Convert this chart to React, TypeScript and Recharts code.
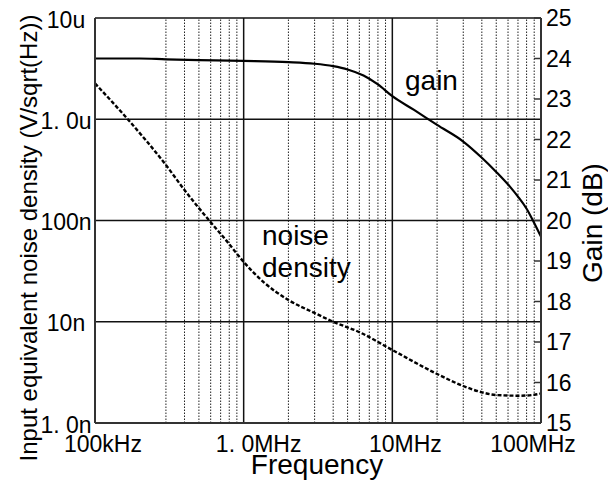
import React from 'react';
import {
  ComposedChart,
  Line,
  XAxis,
  YAxis,
  ReferenceLine,
  Customized,
} from 'recharts';

const FONT = '"Liberation Sans", Arial, Helvetica, sans-serif';

// ---- data ----
const gainFreq = [1e5, 2e5, 3e5, 5e5, 1e6, 2e6, 3e6, 4e6, 5e6, 6.4e6, 8e6, 1e7, 1.4e7, 2e7, 3e7, 4e7, 5e7, 6.2e7, 7e7, 8e7, 9e7, 1e8];
const gainDb = [24.0, 24.0, 23.98, 23.96, 23.94, 23.91, 23.87, 23.81, 23.73, 23.58, 23.36, 23.07, 22.73, 22.36, 21.95, 21.55, 21.2, 20.83, 20.59, 20.29, 19.94, 19.6];

const noiseFreq = [1e5, 1.66e5, 3e5, 4e5, 5.9e5, 7.6e5, 1e6, 1.35e6, 2e6, 3e6, 4e6, 6e6, 1e7, 2e7, 3e7, 4e7, 5e7, 7.2e7, 9e7, 1e8];
const noiseVal = [2.26e-6, 1.0e-6, 3.53e-7, 2.0e-7, 9.9e-8, 6.4e-8, 3.9e-8, 2.49e-8, 1.64e-8, 1.22e-8, 1.0e-8, 7.9e-9, 5.26e-9, 3.05e-9, 2.32e-9, 2.01e-9, 1.89e-9, 1.86e-9, 1.9e-9, 1.96e-9];

const xTicks = [1e5, 1e6, 1e7, 1e8];
const xTickLabels = ['100kHz', '1. 0MHz', '10MHz', '100MHz'];
const leftTicks = [1e-9, 1e-8, 1e-7, 1e-6, 1e-5];
const leftTickLabels = ['1. 0n', '10n', '100n', '1. 0u', '10u'];
const rightTicks = [15, 16, 17, 18, 19, 20, 21, 22, 23, 24, 25];

const minorX = [3e5, 4e5, 5e5, 6e5, 7e5, 8e5, 9e5, 2e6, 3e6, 4e6, 5e6, 6e6, 7e6, 8e6, 9e6, 2e7, 3e7, 4e7, 5e7, 6e7, 7e7, 8e7, 9e7];
const majorX = [1e6, 1e7];
const majorY = [1e-8, 1e-7, 1e-6, 1e-5];

const gainData = gainFreq.map((f, i) => ({ f, g: gainDb[i] }));
const noiseData = noiseFreq.map((f, i) => ({ f, n: noiseVal[i] }));

const xOffsets = [8, 15, 13, -8];

const XTick = (props: any) => {
  const { x, y, payload, index } = props;
  const i = xTicks.indexOf(payload.value);
  return (
    <text x={x + (xOffsets[i] ?? 0)} y={y + 29} textAnchor="middle" fontSize={23} fontFamily={FONT} fill="#000">
      {xTickLabels[i >= 0 ? i : index]}
    </text>
  );
};

const LeftTick = (props: any) => {
  const { y, payload } = props;
  const i = leftTicks.findIndex((t) => Math.abs(Math.log10(t) - Math.log10(payload.value)) < 1e-6);
  return (
    <text x={66} y={y + 9.5} textAnchor="middle" fontSize={23} fontFamily={FONT} fill="#000">
      {leftTickLabels[i]}
    </text>
  );
};

const RightTick = (props: any) => {
  const { x, y, payload } = props;
  return (
    <text x={x} y={y + 8.3} textAnchor="start" fontSize={23} fontFamily={FONT} fill="#000">
      {payload.value}
    </text>
  );
};

const Annotations = () => (
  <g fontFamily={FONT} fill="#000">
    <text x={37} y={238} fontSize={24} textAnchor="middle" transform="rotate(-90 37 238)">
      Input equivalent noise density (V/sqrt(Hz))
    </text>
    <text x={602} y={223} fontSize={28} textAnchor="middle" transform="rotate(-90 602 223)">
      Gain (dB)
    </text>
    <text x={317} y={474} fontSize={28} textAnchor="middle">
      Frequency
    </text>
    <text x={405} y={90} fontSize={28}>gain</text>
    <text x={262} y={245} fontSize={28}>noise</text>
    <text x={262} y={277} fontSize={28}>density</text>
  </g>
);

export default function App() {
  return (
    <div style={{ position: 'absolute', left: 0, top: 0, width: 608, height: 483, background: '#fff' }}>
      <ComposedChart width={608} height={483} margin={{ top: 18, right: 0, bottom: 0, left: 0 }}>
        <XAxis
          dataKey="f"
          type="number"
          scale="log"
          domain={[1e5, 1e8]}
          ticks={xTicks}
          allowDataOverflow
          height={60}
          tickLine={false}
          tickSize={0}
          tickMargin={0}
          axisLine={{ stroke: '#333', strokeWidth: 2 }}
          tick={<XTick />}
          interval={0}
        />
        <YAxis
          yAxisId="left"
          type="number"
          scale="log"
          domain={[1e-9, 1e-5]}
          ticks={leftTicks}
          allowDataOverflow
          width={95}
          tickLine={false}
          tickSize={0}
          axisLine={{ stroke: '#333', strokeWidth: 2 }}
          tick={<LeftTick />}
          interval={0}
        />
        <YAxis
          yAxisId="right"
          orientation="right"
          type="number"
          domain={[15, 25]}
          ticks={rightTicks}
          allowDataOverflow
          width={67}
          tickSize={-7}
          tickMargin={12}
          tickLine={{ stroke: '#333', strokeWidth: 1.5 }}
          axisLine={{ stroke: '#333', strokeWidth: 2 }}
          tick={<RightTick />}
          interval={0}
        />
        {minorX.map((v) => (
          <ReferenceLine key={'mx' + v} yAxisId="left" x={v} stroke="#222" strokeWidth={1} strokeDasharray="1.5 1.5" />
        ))}
        {majorX.map((v) => (
          <ReferenceLine key={'Mx' + v} yAxisId="left" x={v} stroke="#111" strokeWidth={1.5} />
        ))}
        {majorY.map((v) => (
          <ReferenceLine key={'My' + v} yAxisId="left" y={v} stroke="#111" strokeWidth={1.5} />
        ))}
        <Line
          yAxisId="right"
          data={gainData}
          dataKey="g"
          type="monotone"
          stroke="#000"
          strokeWidth={2.2}
          dot={false}
          isAnimationActive={false}
        />
        <Line
          yAxisId="left"
          data={noiseData}
          dataKey="n"
          type="monotone"
          stroke="#000"
          strokeWidth={2.4}
          strokeDasharray="4 2"
          dot={false}
          isAnimationActive={false}
        />
        <Customized component={Annotations} />
      </ComposedChart>
    </div>
  );
}
